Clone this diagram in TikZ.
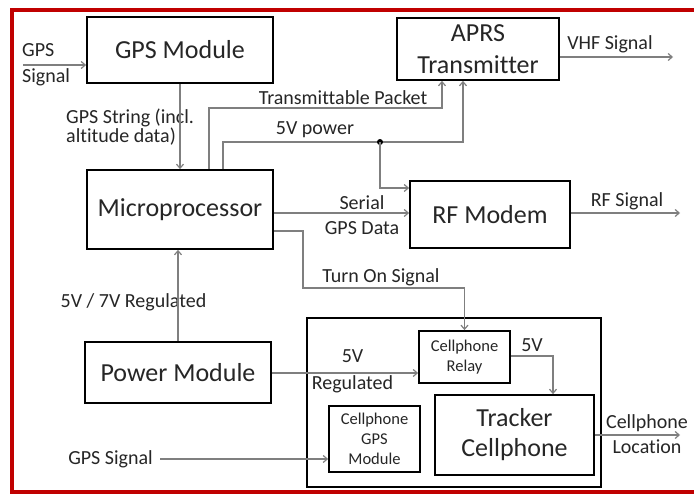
\documentclass[tikz,border=0pt]{standalone}
\usepackage{fontspec}
\setmainfont{Carlito}[Ligatures=NoCommon]
\usetikzlibrary{arrows.meta}
\definecolor{frame}{HTML}{C00000}
\definecolor{wire}{HTML}{7F7F7F}
\definecolor{ink}{HTML}{262626}
\tikzset{
  blk/.style={draw=black, line width=1.8pt, text=ink, inner sep=0pt, align=center},
  bigtxt/.style={font=\fontsize{26}{31}\selectfont},
  smalltxt/.style={font=\fontsize{16.5}{20}\selectfont},
  lbl/.style={text=ink, inner sep=0pt, font=\fontsize{20}{25}\selectfont},
  conn/.style={draw=wire, line width=1.2pt, -{Straight Barb[length=4pt,width=7pt]}},
}
\begin{document}
\begin{tikzpicture}[x=1pt, y=-1pt]
\useasboundingbox (0,0) rectangle (694,495);
\fill[white] (0,0) rectangle (694,495);
% outer frame
\draw[frame, line width=4.5pt] (694,10) -- (12,10) -- (12,492) -- (694,492);

% blocks
\node[blk, bigtxt, minimum width=186pt, minimum height=66pt] (gps) at (180,50) {GPS Module};
\node[blk, bigtxt, minimum width=186pt, minimum height=79pt] (mp) at (180,209.5) {Microprocessor};
\node[blk, bigtxt, minimum width=186pt, minimum height=61pt] (pwr) at (178,372.5) {Power Module};
\node[blk, bigtxt, minimum width=162pt, minimum height=62pt, font=\fontsize{26}{32}\selectfont] (aprs) at (478,49) {APRS\\Transmitter};
\node[blk, bigtxt, minimum width=160pt, minimum height=67pt] (rf) at (490,214.5) {RF Modem};
\node[blk, minimum width=294pt, minimum height=169pt] (cont) at (454,402.5) {};
\node[blk, smalltxt, minimum width=91pt, minimum height=52pt] (relay) at (464.5,357) {Cellphone\\Relay};
\node[blk, bigtxt, minimum width=159pt, minimum height=80pt, font=\fontsize{26}{30}\selectfont] (tracker) at (514.5,435) {Tracker\\Cellphone};
\node[blk, smalltxt, minimum width=91pt, minimum height=66pt] (cgps) at (374.5,439) {Cellphone\\GPS\\Module};

% free ends and bends
\coordinate (gin) at (23,65);
\coordinate (tpk) at (442,108);
\coordinate (pw) at (463,142);
\coordinate (pj) at (380,142);
\coordinate (ton) at (303,288);
\coordinate (r5) at (553,356);
\coordinate (vhf) at (673,57);
\coordinate (rfo) at (680,213);
\coordinate (loc) at (680,435);

% labels
\node[lbl, anchor=west, align=left, font=\fontsize{20}{26}\selectfont] (gsin) at (22,65) {GPS\\Signal};
\node[lbl, anchor=west, align=left, font=\fontsize{20}{19}\selectfont] (gstr) at (66,127) {GPS String (incl.\\altitude data)};
\node[lbl] (tpl) at (343,98) {Transmittable Packet};
\node[lbl] (pwl) at (315,130) {5V power};
\node[lbl, align=center] (ser) at (362,215.5) {Serial\\GPS Data};
\node[lbl] (tol) at (381,277) {Turn On Signal};
\node[lbl] (vhl) at (610,44) {VHF Signal};
\node[lbl] (rfl) at (627,201) {RF Signal};
\node[lbl] (rgl) at (133.5,302) {5V / 7V Regulated};
\node[lbl, align=center, font=\fontsize{20}{27}\selectfont] (r5l) at (352.5,371.5) {5V\\Regulated};
\node[lbl] (c5l) at (532,345) {5V};
\node[lbl, align=center] (locl) at (647,434.5) {Cellphone\\Location};
\node[lbl, anchor=east] (gs) at (153,459) {GPS Signal};

% connectors
\draw[conn] (gin) -- (gin -| gps.west);
\draw[conn] (gps.south) -- (mp.north);
\draw[conn] ([xshift=29pt]mp.north) |- (tpk) -- (tpk |- aprs.south);
\draw[conn] ([xshift=43pt]mp.north) |- (pw) -- (pw |- aprs.south);
\fill[black] (pj) circle (3pt);
\draw[conn] (pj) |- ([yshift=26.5pt]rf.west);
\draw[conn] (mp.east |- rfo) -- (rf.west |- rfo);
\draw[conn] (rf.east |- rfo) -- (rfo);
\draw[conn] (aprs.east |- vhf) -- (vhf);
\draw[conn] (mp.east |- 0,231) -| (ton) -| (relay.north);
\draw[conn] (pwr.north) -- (pwr.north |- mp.south);
\draw[conn] (pwr.east |- 0,373) -- (relay.west |- 0,373);
\draw[conn] (relay.east |- r5) -- (r5) -- (r5 |- tracker.north);
\draw[conn] (tracker.east) -- (loc);
\draw[conn] ([xshift=7pt]gs.east) -- (cgps.west |- gs.east);
\end{tikzpicture}
\end{document}
